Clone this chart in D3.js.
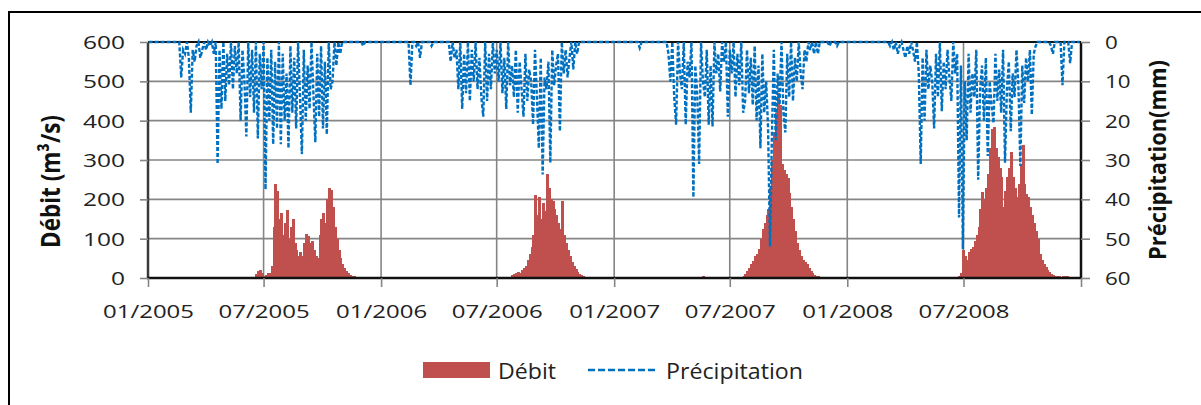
<!DOCTYPE html>
<meta charset="UTF-8">
<script src="https://cdn.jsdelivr.net/npm/d3@7"></script>

<style>
 body { margin:0; background:#fff; }
 svg { display:block; font-family:"Open Sans", sans-serif; }
 .grid line { stroke:#858585; stroke-width:1.6px; }
 .axis path.domain { display:none; }
 .axis line { stroke:#858585; stroke-width:1.6px; }
 .axis text { fill:#222; font-family:"Open Sans", sans-serif; }
 .bar { fill:#C0504D; }
 #bars rect { shape-rendering:crispEdges; }
 #precip { fill:none; stroke:#0070C0; stroke-width:2.4px; stroke-dasharray:4,2; }
</style>

<svg id="chart" width="1201" height="405"></svg>

<script>
 // one value every 3 days, starting on 1 January of each year
 var years = [2005, 2006, 2007, 2008];

 // Débit (m3/s)
 var q2005 = [0,0,0,0,0,0,0,0,0,0, 0,0,0,0,0,0,0,0,0,0, 0,0,0,0,0,0,0,0,0,0,
	      0,0,0,0,0,0,0,0,0,0, 0,0,0,0,0,0,0,0,0,0, 0,0,0,0,0,0,10,18,20,12,
	      5,8,12,12,30,130,240,220,150,165, 110,140,172,100,130,150,90,70,55,65,
	      55,90,112,108,90,95,70,55,50,110, 150,165,140,200,230,225,180,130,100,70,
	      50,35,25,18,12,8,5,4,3,3, 3,3,2,0,0,0,0,0,0,0, 0,0];
 var q2006 = [0,0,0,0,0,0,0,0,0,0, 0,0,0,0,0,0,0,0,0,0, 0,0,0,0,0,0,0,0,0,0,
	      0,0,0,0,0,0,0,0,0,0, 0,0,0,0,0,0,0,0,0,0, 0,0,0,0,0,0,0,0,0,0,
	      0,0,0,0,0,0,0,0,8,10, 12,15,12,20,25,30,45,60,80,110,
	      210,160,205,150,190,170,265,230,200,195, 175,160,140,125,195,110,90,70,55,40,
	      30,22,15,10,7,5,3,2,1,0, 0,0,0,0,0,0,0,0,0,0, 0,0];
 var q2007 = [0,0,0,0,0,0,0,0,0,0, 0,0,0,0,0,0,0,0,0,0, 0,0,0,0,0,0,0,0,0,0,
	      0,0,0,0,0,0,0,0,0,0, 0,0,3,0,0,0,4,0,0,0, 0,0,0,0,0,0,0,0,0,0,
	      0,0,0,0,0,0,3,5,10,18, 25,35,42,55,60,75,100,125,140,160,
	      175,230,300,370,420,470,440,290,275,265, 255,215,180,150,120,90,70,55,45,40,
	      35,25,18,12,8,6,4,3,2,2, 1,0,0,0,0,0,0,0,0,0, 0,0];
 var q2008 = [0,0,0,0,0,0,0,0,0,0, 0,0,0,0,0,0,0,0,0,0, 0,0,0,0,0,0,0,0,0,0,
	      0,0,0,0,0,0,0,0,0,0, 0,0,0,0,0,0,0,0,0,0, 2,0,0,0,0,0,0,0,5,12,
	      70,55,45,65,75,80,95,110,130,175, 218,200,230,265,330,380,383,330,307,280,
	      256,180,220,256,280,320,256,230,206,240, 290,337,240,214,206,180,160,140,120,100,
	      62,45,35,28,20,15,11,8,6,5, 4,3,4,6,5,3,2,0,0,0, 0,0];

 // Précipitation (mm)
 var p2005 = [0,0,0,0,0,0,0,0,0,0, 0,0,0,0,0,0,0,9,2,3, 0,4,18,2,5,1,0,4,2,0,
	      2,0,1,0,3,0,31,2,17,0, 15,3,11,0,12,1,8,0,20,2, 10,24,0,14,2,18,0,24.5,3,12,
	      0,37.5,4,20,2,26,5,22,0,26, 3,20,8,27,1,18,4,22,0,14,
	      28.5,2,20,6,17,0,13,25.5,3,19, 1,22,5,23.5,0,12,10,0,6,0,
	      3,0,0,0,0,0,0,0,0,0, 0,0,1,0,0,0,0,0,0,0, 0,0];
 var p2006 = [0,0,0,0,0,0,0,0,0,0, 0,0,0,0,0,11,0,0,1,0, 4,0,0,0,0,0,1,0,0,0,
	      0,0,0,0,0,0,5,0,4,2, 12,0,17,3,13,0,15,2,10,0, 12,4,14,19,0,15,3,12,0,8,
	      2,10,0,13,4,17,0,11,6,14, 2,18,5,12,19,3,15,7,10,21,
	      2,14,27,4,33.7,9,12,5,30.7,2, 11,6,3,22.7,0,8,2,9,4,0,
	      7,0,3,0,0,0,0,0,0,0, 0,0,0,0,0,0,0,0,0,0, 0,0];
 var p2007 = [0,0,0,0,0,0,0,0,0,0, 0,0,0,1.5,0,0,0,0,0,0, 0,0,0,0,0,0,0,0,3,10,
	      0,14,21,0,8,12,0,21,5,9, 0,39.5,6,13,31,0,10,14,2,21, 6,21.5,0,8,3,12.6,0,5,0,19,
	      2,8,0,14,3,11,0,18,15,2, 13,4,16,1,20,6,27,3,18,10,
	      22,52,24,2,25,8,16,0,18,23, 3,14,0,15,4,10,0,8,12,2,
	      5,0,2,0,3,0,3,0,0,0, 0,0,1,0,0,0,1,0,0,0, 0,0];
 var p2008 = [0,0,0,0,0,0,0,0,0,0, 0,0,0,0,0,0,0,0,0,0, 0,0,1,0,2,0,3,1,0,2,
	      4,1,3,0,2,5,0,8,31,4, 20,2,12,6,10,22,3,14,0,17.6, 5,12,2,9,15,0,8,3,44.6,6,
	      52.7,10,25,3,18,8,14,2,35,12, 6,20,4,29,10,16,20.6,3,15,7,
	      18,2,30.7,12,5,22.7,8,14,2,11, 31.5,6,15.5,4,10,2,18.5,3,1,0,
	      0,0,0,0,0,0,1,3,0,0, 0,0,11,0,0,0,5.4,0,0,0, 0,0];

 var debitTicks = [0,100,200,300,400,500,600];
 var precipTicks = [0,10,20,30,40,50,60];
 var xTickDates = ["2005-01-01","2005-07-01","2006-01-01","2006-07-01","2007-01-01",
		   "2007-07-01","2008-01-01","2008-07-01","2009-01-01"];
 var xTickLabels = ["01/2005","07/2005","01/2006","07/2006","01/2007","07/2007","01/2008","07/2008",""];

 var debit = [q2005,q2006,q2007,q2008];
 var precip = [p2005,p2006,p2007,p2008];

 var rows = [];
 years.forEach(function (yr,k) {
     debit[k].forEach(function (v,i) {
	 rows.push({start:new Date(yr,0,1+3*i), mid:new Date(yr,0,2+3*i), end:new Date(yr,0,4+3*i),
		    q:v, p:precip[k][i]});
     });
 });

 var svg = d3.select("#chart");
 // plot box ("top" is taken by window.top, hence the prefix)
 var pLeft = 148, pRight = 1081, pTop = 42, pBottom = 278;

 var x = d3.scaleTime().domain([new Date(2005,0,1), new Date(2009,0,1)]).range([pLeft,pRight]);
 var yQ = d3.scaleLinear().domain([0,600]).range([pBottom,pTop]);
 var yP = d3.scaleLinear().domain([0,60]).range([pTop,pBottom]);
 var tickDates = xTickDates.map(function (s){ return d3.timeParse("%Y-%m-%d")(s); });

 // outer frame (cut by the picture on the right and at the bottom)
 svg.append("rect").attr("x",9).attr("y",12).attr("width",1200).attr("height",400)
    .attr("fill","none").attr("stroke","#000").attr("stroke-width",2);

 // grid
 var grid = svg.append("g").attr("class","grid");
 grid.selectAll(".h").data(debitTicks).enter().append("line")
     .attr("x1",pLeft).attr("x2",pRight)
     .attr("y1",function (d){return yQ(d);}).attr("y2",function (d){return yQ(d);});
 grid.selectAll(".v").data(tickDates.slice(1,-1)).enter().append("line")
     .attr("y1",pTop).attr("y2",pBottom)
     .attr("x1",function (d){return x(d);}).attr("x2",function (d){return x(d);});

 // Débit bars (slightly widened so neighbours join like the daily bars of the original)
 svg.append("g").attr("id","bars")
    .selectAll("rect").data(rows.filter(function (r){return r.q>0;})).enter().append("rect")
    .attr("class","bar")
    .attr("x",function (r){return x(r.start);})
    .attr("width",function (r){return x(r.end)-x(r.start)+1;})
    .attr("y",function (r){return yQ(r.q);})
    .attr("height",function (r){return yQ(0)-yQ(r.q);});

 // top line
 svg.append("line").attr("x1",pLeft).attr("x2",pRight).attr("y1",pTop).attr("y2",pTop)
    .attr("stroke","#111").attr("stroke-width",2);

 // Précipitation line
 svg.append("path").attr("id","precip")
    .attr("d", d3.line()
		 .x(function (r){return x(r.mid);})
		 .y(function (r){return yP(r.p);})(rows));

 // axis lines
 svg.append("line").attr("x1",pLeft).attr("x2",pLeft).attr("y1",pTop).attr("y2",pBottom)
    .attr("stroke","#3a3a3a").attr("stroke-width",2.5);
 svg.append("line").attr("x1",pRight).attr("x2",pRight).attr("y1",pTop).attr("y2",pBottom)
    .attr("stroke","#111").attr("stroke-width",2.5);
 svg.append("line").attr("x1",pLeft-1).attr("x2",pRight+1).attr("y1",pBottom).attr("y2",pBottom)
    .attr("stroke","#111").attr("stroke-width",2.5);

 // Axes
 var yAxisL = svg.append("g").attr("class","axis")
		 .attr("transform","translate("+pLeft+",0)")
		 .call(d3.axisLeft(yQ).tickValues(debitTicks).tickSize(8).tickPadding(15));
 yAxisL.selectAll("text").attr("font-size",18).attr("dy","0.36em")
       .attr("textLength",function (d){return 14*String(d).length;})
       .attr("lengthAdjust","spacingAndGlyphs");

 var yAxisR = svg.append("g").attr("class","axis")
		 .attr("transform","translate("+pRight+",0)")
		 .call(d3.axisRight(yP).tickValues(precipTicks).tickSize(9).tickPadding(15));
 yAxisR.selectAll("text").attr("font-size",18).attr("dy","0.36em")
       .attr("textLength",function (d){return 12.8*String(d).length;})
       .attr("lengthAdjust","spacingAndGlyphs");

 var xAxis = svg.append("g").attr("class","axis")
		.attr("transform","translate(0,"+pBottom+")")
		.call(d3.axisBottom(x).tickValues(tickDates).tickSize(9)
			.tickFormat(function (d,i){return xTickLabels[i];}));
 xAxis.selectAll("text").attr("font-size",18).attr("y",40).attr("dy",0)
      .filter(function (d,i){return xTickLabels[i]!="";})
      .attr("textLength",91).attr("lengthAdjust","spacingAndGlyphs");

 // Axis titles
 svg.append("text").attr("transform","translate(59.5,181.5) rotate(-90)")
    .attr("text-anchor","middle").attr("font-weight","bold").attr("font-size",27)
    .attr("fill","#111").attr("textLength",133).attr("lengthAdjust","spacingAndGlyphs")
    .text("Débit (m³/s)");
 svg.append("text").attr("transform","translate(1166,160) rotate(-90)")
    .attr("text-anchor","middle").attr("font-weight","bold").attr("font-size",23)
    .attr("fill","#111").attr("textLength",200).attr("lengthAdjust","spacingAndGlyphs")
    .text("Précipitation(mm)");

 // Legend
 var legend = svg.append("g");
 legend.append("rect").attr("x",423).attr("y",362).attr("width",67).attr("height",16)
       .attr("class","bar");
 legend.append("text").attr("x",498).attr("y",378.5).attr("font-size",21).attr("fill","#222")
       .attr("textLength",58).attr("lengthAdjust","spacingAndGlyphs").text("Débit");
 legend.append("line").attr("x1",588).attr("x2",657).attr("y1",370).attr("y2",370)
       .attr("stroke","#0070C0").attr("stroke-width",2.5).attr("stroke-dasharray","7,3");
 legend.append("text").attr("x",666).attr("y",378.5).attr("font-size",21).attr("fill","#222")
       .attr("textLength",137).attr("lengthAdjust","spacingAndGlyphs").text("Précipitation");
</script>
